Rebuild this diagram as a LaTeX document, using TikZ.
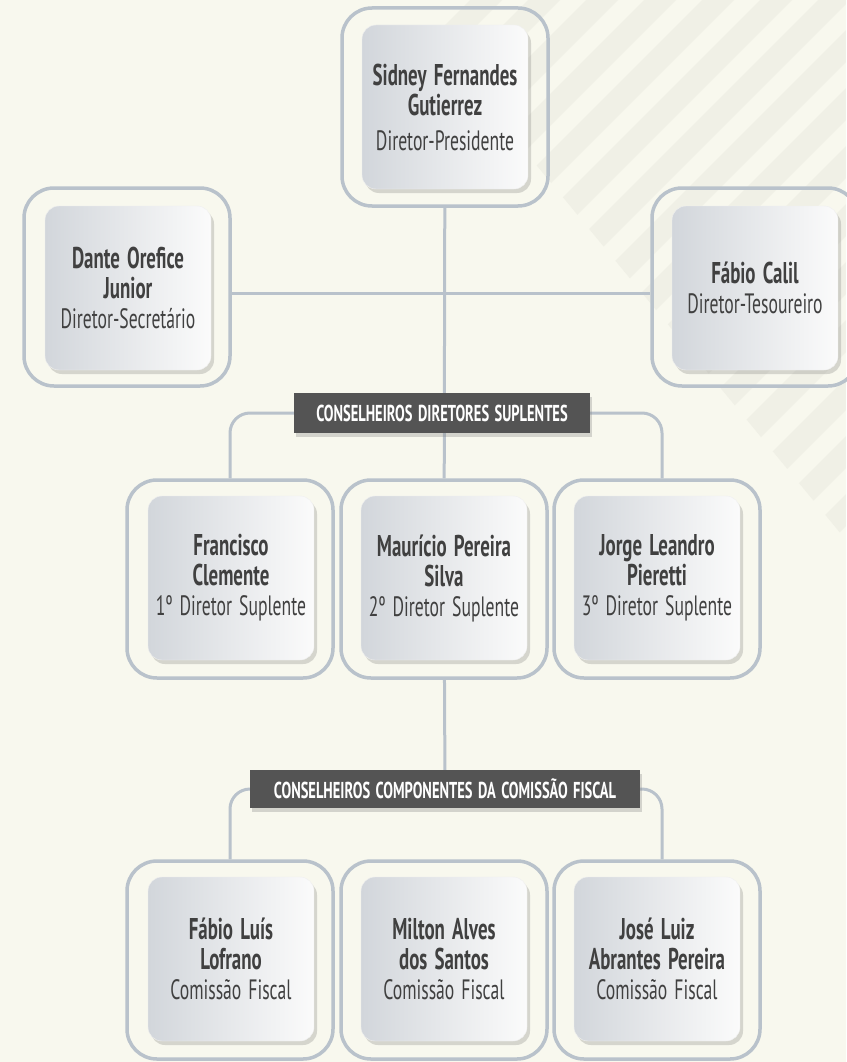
\documentclass[tikz,border=0pt]{standalone}
\usepackage{fontspec}
\newfontfamily\gill[FakeStretch=0.63, WordSpace=1.5]{PT Sans}
\usetikzlibrary{positioning, shadows}
\definecolor{bgcream}{HTML}{F8F8EE}
\definecolor{stripe}{HTML}{F0F0E6}
\definecolor{linegray}{HTML}{B9C2CB}
\definecolor{cardgray}{HTML}{D2D6DB}
\definecolor{textgray}{HTML}{404040}
\definecolor{barcol}{HTML}{545454}
\newcommand{\rolefont}{\fontsize{28}{30}\selectfont\mdseries}
\pgfdeclarelayer{back}
\pgfdeclarelayer{lines}
\pgfsetlayers{back,lines,main}
\tikzset{
	frame/.style={draw=linegray, line width=3.5pt, rounded corners=30pt, minimum width=206pt, minimum height=198pt}, % outer ring of a box
	card/.style={draw=white!88!gray, rounded corners=14pt, minimum width=166pt, minimum height=164pt, inner sep=0pt,
		left color=cardgray, right color=white!97!gray,
		drop shadow={shadow xshift=3pt, shadow yshift=-4pt, opacity=0.2, fill=black!70},
		text=textgray, align=center, font=\gill\bfseries\fontsize{30}{30}\selectfont}, % the card with the name
	bar/.style={fill=barcol, text=white, inner sep=0pt, drop shadow={shadow xshift=2pt, shadow yshift=-4pt, opacity=0.3},
		font=\gill\bfseries\fontsize{23}{24}\selectfont}, % dark title bar
	link/.style={draw=linegray, line width=3pt},
}
\begin{document}
\begin{tikzpicture}[x=1pt,y=-1pt]
	\useasboundingbox (0,0) rectangle (846,1062);
	\begin{pgfonlayer}{back}
		\fill[bgcream] (0,0) rectangle (846,1062);
		\begin{scope}
			\clip (400,0) -- (846,0) -- (846,540) -- cycle;
			\foreach \c in {470,528,...,1420}
				\fill[stripe] (\c,0) -- (\c+32,0) -- (\c-668,700) -- (\c-700,700) -- cycle;
		\end{scope}
	\end{pgfonlayer}

	% directors
	\node[frame] (pres) at (445,107) {};
	\node[card] (presc) at (445,107) {Sidney Fernandes\\Gutierrez\\[5pt]{\rolefont Diretor-Presidente}};
	\node[frame] (sec) at (127,287) {};
	\node[card] (secc) at (128,288) {Dante Orefice\\Junior\\{\rolefont Diretor-Secretário}};
	\node[frame] (tes) at (755,287) {};
	\node[card] (tesc) at (755,288) {Fábio Calil\\{\rolefont Diretor-Tesoureiro}};

	% suplentes
	\node[bar, minimum width=296pt, minimum height=40pt] (hdr1) at (442,413) {CONSELHEIROS DIRETORES SUPLENTES};
	\node[frame] (sup1) at (230,579) {};
	\node[card] (sup1c) at (231,578) {Francisco\\Clemente\\{\rolefont 1º Diretor Suplente}};
	\node[frame] (sup2) at (444,579) {};
	\node[card] (sup2c) at (444,578) {Maurício Pereira\\Silva\\{\rolefont 2º Diretor Suplente}};
	\node[frame] (sup3) at (657,579) {};
	\node[card] (sup3c) at (657,578) {Jorge Leandro\\Pieretti\\{\rolefont 3º Diretor Suplente}};

	% comissao fiscal
	\node[bar, minimum width=390pt, minimum height=38pt] (hdr2) at (445,789) {CONSELHEIROS COMPONENTES DA COMISSÃO FISCAL};
	\node[frame] (fis1) at (230,960) {};
	\node[card] (fis1c) at (231,959) {Fábio Luís\\Lofrano\\{\rolefont Comissão Fiscal}};
	\node[frame] (fis2) at (444,960) {};
	\node[card] (fis2c) at (444,959) {Milton Alves\\dos Santos\\{\rolefont Comissão Fiscal}};
	\node[frame] (fis3) at (657,960) {};
	\node[card] (fis3c) at (657,959) {José Luiz\\Abrantes Pereira\\{\rolefont Comissão Fiscal}};

	\begin{pgfonlayer}{lines}
		\draw[link] (pres) -- (sup2);
		\draw[link] ([yshift=-6pt]sec.east) -- ([yshift=-6pt]tes.west);
		\draw[link, rounded corners=20pt] (sup1.north) |- (hdr1.center) -| ([xshift=5pt]sup3.north);
		\draw[link] (sup2) -- (hdr2);
		\draw[link, rounded corners=20pt] (fis1.north) |- (hdr2.center) -| ([xshift=5pt]fis3.north);
	\end{pgfonlayer}
\end{tikzpicture}
\end{document}
